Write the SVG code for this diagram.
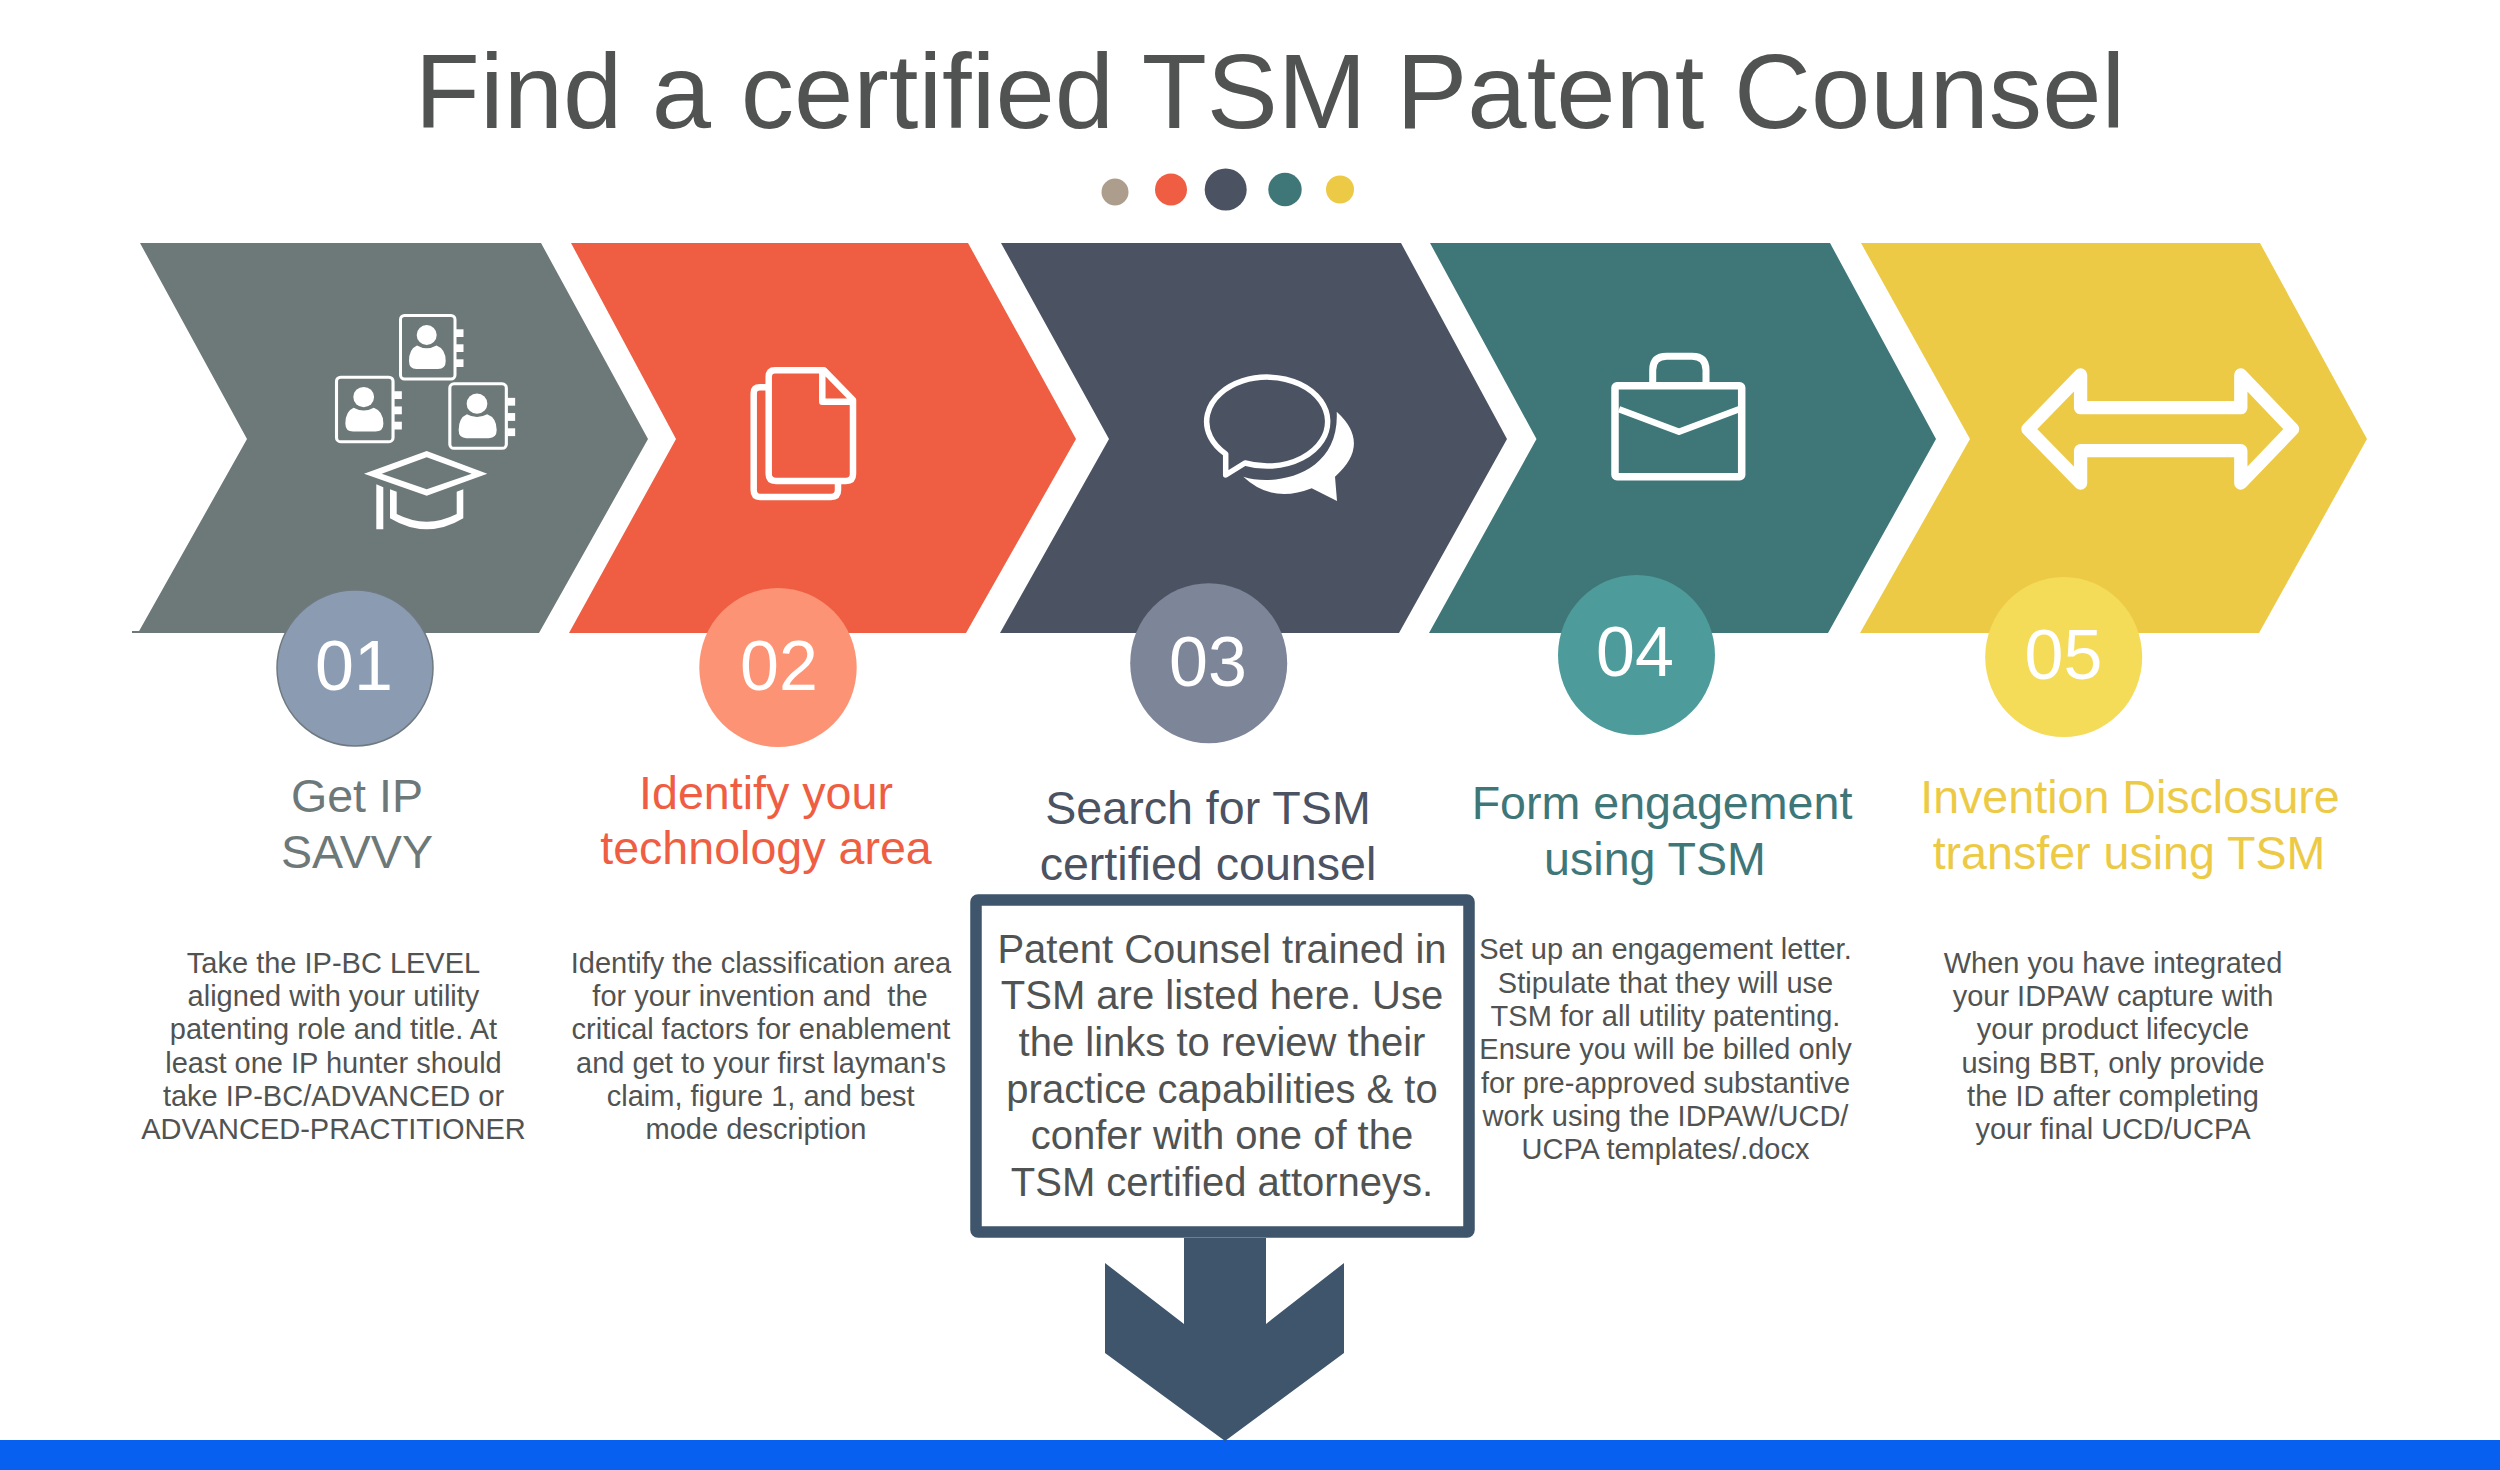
<svg xmlns="http://www.w3.org/2000/svg" width="2500" height="1470" viewBox="0 0 2500 1470">
<style>
text{font-family:"Liberation Sans",Arial,sans-serif;text-anchor:middle}
.title{font-size:106.6px;fill:#505352}
.num{font-size:70px;fill:#fff}
.head{font-size:46.6px}
.body{font-size:29px;fill:#505352}
.note{font-size:40px;fill:#505352}
.line{fill:none;stroke:#fff;stroke-linejoin:round;stroke-linecap:butt}
.solid{fill:#fff}
</style>
<defs>
<g id="card">
<rect x="400.5" y="315.5" width="54.5" height="63.5" rx="4" fill="none" stroke="#fff" stroke-width="3"/>
<rect x="456" y="329.3" width="7.5" height="7.7" class="solid"/>
<rect x="456" y="344.3" width="7.5" height="7.7" class="solid"/>
<rect x="456" y="359.3" width="7.5" height="7.7" class="solid"/>
<circle cx="426.7" cy="335" r="10" class="solid"/>
<path class="solid" d="M417,345.5 Q426.7,351 436.5,345.5 Q445.7,349 445.7,361 Q445.7,369 438,369 H416.5 Q409,369 409,361 Q409,349 417,345.5Z"/>
</g>
</defs>
<rect width="2500" height="1470" fill="#fff"/>
<g id="title">
<text class="title" x="1270" y="128">Find a certified TSM Patent Counsel</text>
<circle cx="1115" cy="192" r="13.5" fill="#AC9D8D"/>
<circle cx="1171" cy="189.5" r="16" fill="#EF5E42"/>
<circle cx="1225.7" cy="189.5" r="21" fill="#4B5262"/>
<circle cx="1285" cy="189.5" r="16.7" fill="#3F7779"/>
<circle cx="1340" cy="189.5" r="14" fill="#EDCA46"/>
</g>
<g id="step-1">
<path d="M132,632H140" stroke="#6D7878" stroke-width="2"/>
<polygon points="140,243 541,243 648,439 539,633 138,633 247,439" fill="#6D7878"/>
<use href="#card"/>
<use href="#card" transform="translate(-78.8,57) scale(1.037,1.015)"/>
<use href="#card" transform="translate(34.5,63.6) scale(1.037,1.015)"/>
<path class="solid" fill-rule="evenodd" d="M364,473.7 L426.7,451 L487.3,473.7 L426.7,495.7Z M381.7,473.7 L426.7,489.3 L471.7,473.7 L426.7,457.3Z"/>
<polygon class="solid" points="376.3,484.3 383.3,487.3 383.3,529.3 376.3,529.3"/>
<path class="solid" d="M390,489.3 L396.7,491.7 V514 Q426.7,529.3 456.7,514 V491.7 L463.3,489.3 V518.3 Q426.7,540.3 390,518.3Z"/>
<circle cx="355" cy="668" r="78" fill="#8B9BB2" stroke="#6F7A80" stroke-width="1.5"/>
<text class="num" x="354" y="690">01</text>
<text class="head" x="357" y="812" fill="#6D7878">Get IP</text>
<text class="head" x="357" y="868" fill="#6D7878">SAVVY</text>
<text class="body" x="333.5" y="972.5">Take the IP-BC LEVEL</text>
<text class="body" x="333.5" y="1005.5">aligned with your utility</text>
<text class="body" x="333.5" y="1038.5">patenting role and title. At</text>
<text class="body" x="333.5" y="1072.5">least one IP hunter should</text>
<text class="body" x="333.5" y="1105.5">take IP-BC/ADVANCED or</text>
<text class="body" x="333.5" y="1138.5">ADVANCED-PRACTITIONER</text>
</g>
<g id="step-2">
<polygon points="571,243 968,243 1076,439 966,633 569,633 676,439" fill="#EF5E42"/>
<path class="line" stroke-width="6.5" d="M775,370.3 H824 L853,400 V474 Q853,481 846,481 H776 Q768.7,481 768.7,474 V377 Q768.7,370.3 775,370.3Z M822.3,370.3 V401.7 H853 M768.7,387.3 H760 Q753.7,387.3 753.7,393 V490 Q753.7,497 760,497 H831 Q838,497 838,490 V481"/>
<ellipse cx="778" cy="667.5" rx="78.7" ry="79.5" fill="#FD9375"/>
<text class="num" x="779" y="690">02</text>
<text class="head" x="766" y="809" fill="#EF5E42">Identify your</text>
<text class="head" x="766" y="864" fill="#EF5E42">technology area</text>
<text class="body" x="761" y="972.5">Identify the classification area</text>
<text class="body" x="760" y="1005.5" xml:space="preserve">for your invention and  the</text>
<text class="body" x="761" y="1038.5">critical factors for enablement</text>
<text class="body" x="761" y="1072.5">and get to your first layman's</text>
<text class="body" x="760.7" y="1105.5">claim, figure 1, and best</text>
<text class="body" x="756" y="1138.5">mode description</text>
</g>
<g id="step-3">
<polygon points="1001,243 1401,243 1507,439 1399,633 1000,633 1109,439" fill="#4B5262"/>
<path class="line" stroke-width="5.5" d="M1225.7,454 V475 L1245,463 A60.5,44.5 0 1 0 1225.7,454Z"/>
<path class="solid" d="M1336.7,411.7 Q1372,444 1335,476.7 L1337,501 L1311.7,488.3 Q1272,504 1243.3,476.7 C1275,487 1340,475 1336.7,411.7Z"/>
<ellipse cx="1208.7" cy="663.2" rx="78.5" ry="80" fill="#7D8598"/>
<text class="num" x="1208" y="686">03</text>
<text class="head" x="1208" y="824" fill="#4B5262">Search for TSM</text>
<text class="head" x="1208" y="880" fill="#4B5262">certified counsel</text>
</g>
<g id="step-4">
<polygon points="1430,243 1830,243 1936,439 1828,633 1429,633 1536.5,439" fill="#3F7779"/>
<rect x="1615" y="385.7" width="126.7" height="91" rx="2" fill="none" stroke="#fff" stroke-width="7.5"/>
<path class="line" stroke-width="7" d="M1652.7,382 V370 Q1652.7,356.3 1666.7,356.3 H1692 Q1706,356.3 1706,370 V382"/>
<path class="line" stroke-width="6.5" d="M1619,409.3 L1679,431.7 L1739,409.3"/>
<ellipse cx="1636.5" cy="655" rx="78.5" ry="80" fill="#4D9C9B"/>
<text class="num" x="1635" y="676">04</text>
<text class="head" x="1662" y="819" fill="#3F7779">Form engagement</text>
<text class="head" x="1655" y="875" fill="#3F7779">using TSM</text>
<text class="body" x="1665.5" y="958.5">Set up an engagement letter.</text>
<text class="body" x="1665.5" y="992.5">Stipulate that they will use</text>
<text class="body" x="1665.5" y="1025.5">TSM for all utility patenting.</text>
<text class="body" x="1665.5" y="1058.5">Ensure you will be billed only</text>
<text class="body" x="1665.5" y="1092.5">for pre-approved substantive</text>
<text class="body" x="1665.5" y="1125.5">work using the IDPAW/UCD/</text>
<text class="body" x="1665.5" y="1158.5">UCPA templates/.docx</text>
</g>
<g id="step-5">
<polygon points="1861,243 2260,243 2367,439 2259,633 1860,633 1970,439" fill="#EDCA46"/>
<path class="line" stroke-width="13.3" d="M2028,429.2 L2080.6,375 V407.7 H2240.8 V375 L2292.5,429.2 L2240.8,483 V450.6 H2080.6 V483Z"/>
<ellipse cx="2063.7" cy="657" rx="78.5" ry="80" fill="#F4DB58"/>
<text class="num" x="2063.5" y="679">05</text>
<text class="head" x="2130" y="812.5" fill="#EDCA46">Invention Disclosure</text>
<text class="head" x="2129" y="868.5" fill="#EDCA46">transfer using TSM</text>
<text class="body" x="2113" y="972.5">When you have integrated</text>
<text class="body" x="2113" y="1005.5">your IDPAW capture with</text>
<text class="body" x="2113" y="1038.5">your product lifecycle</text>
<text class="body" x="2113" y="1072.5">using BBT, only provide</text>
<text class="body" x="2113" y="1105.5">the ID after completing</text>
<text class="body" x="2113" y="1138.5">your final UCD/UCPA</text>
</g>
<g id="bar"><rect x="0" y="1440" width="2500" height="30" fill="#0760F0"/></g>
<g id="connectors">
<polygon points="1184,1238 1266,1238 1266,1324 1344,1263 1344,1353 1225,1441 1105,1353 1105,1263 1184,1324" fill="#3F556C"/>
</g>
<g id="note">
<rect x="976" y="900" width="493" height="332" rx="2" fill="#fff" stroke="#3F556C" stroke-width="11.5" stroke-linejoin="round"/>
<text class="note" x="1222" y="962.5">Patent Counsel trained in</text>
<text class="note" x="1222" y="1008.5">TSM are listed here. Use</text>
<text class="note" x="1222" y="1055.5">the links to review their</text>
<text class="note" x="1222" y="1102.5">practice capabilities &amp; to</text>
<text class="note" x="1222" y="1148.5">confer with one of the</text>
<text class="note" x="1222" y="1195.5">TSM certified attorneys.</text>
</g>
</svg>
